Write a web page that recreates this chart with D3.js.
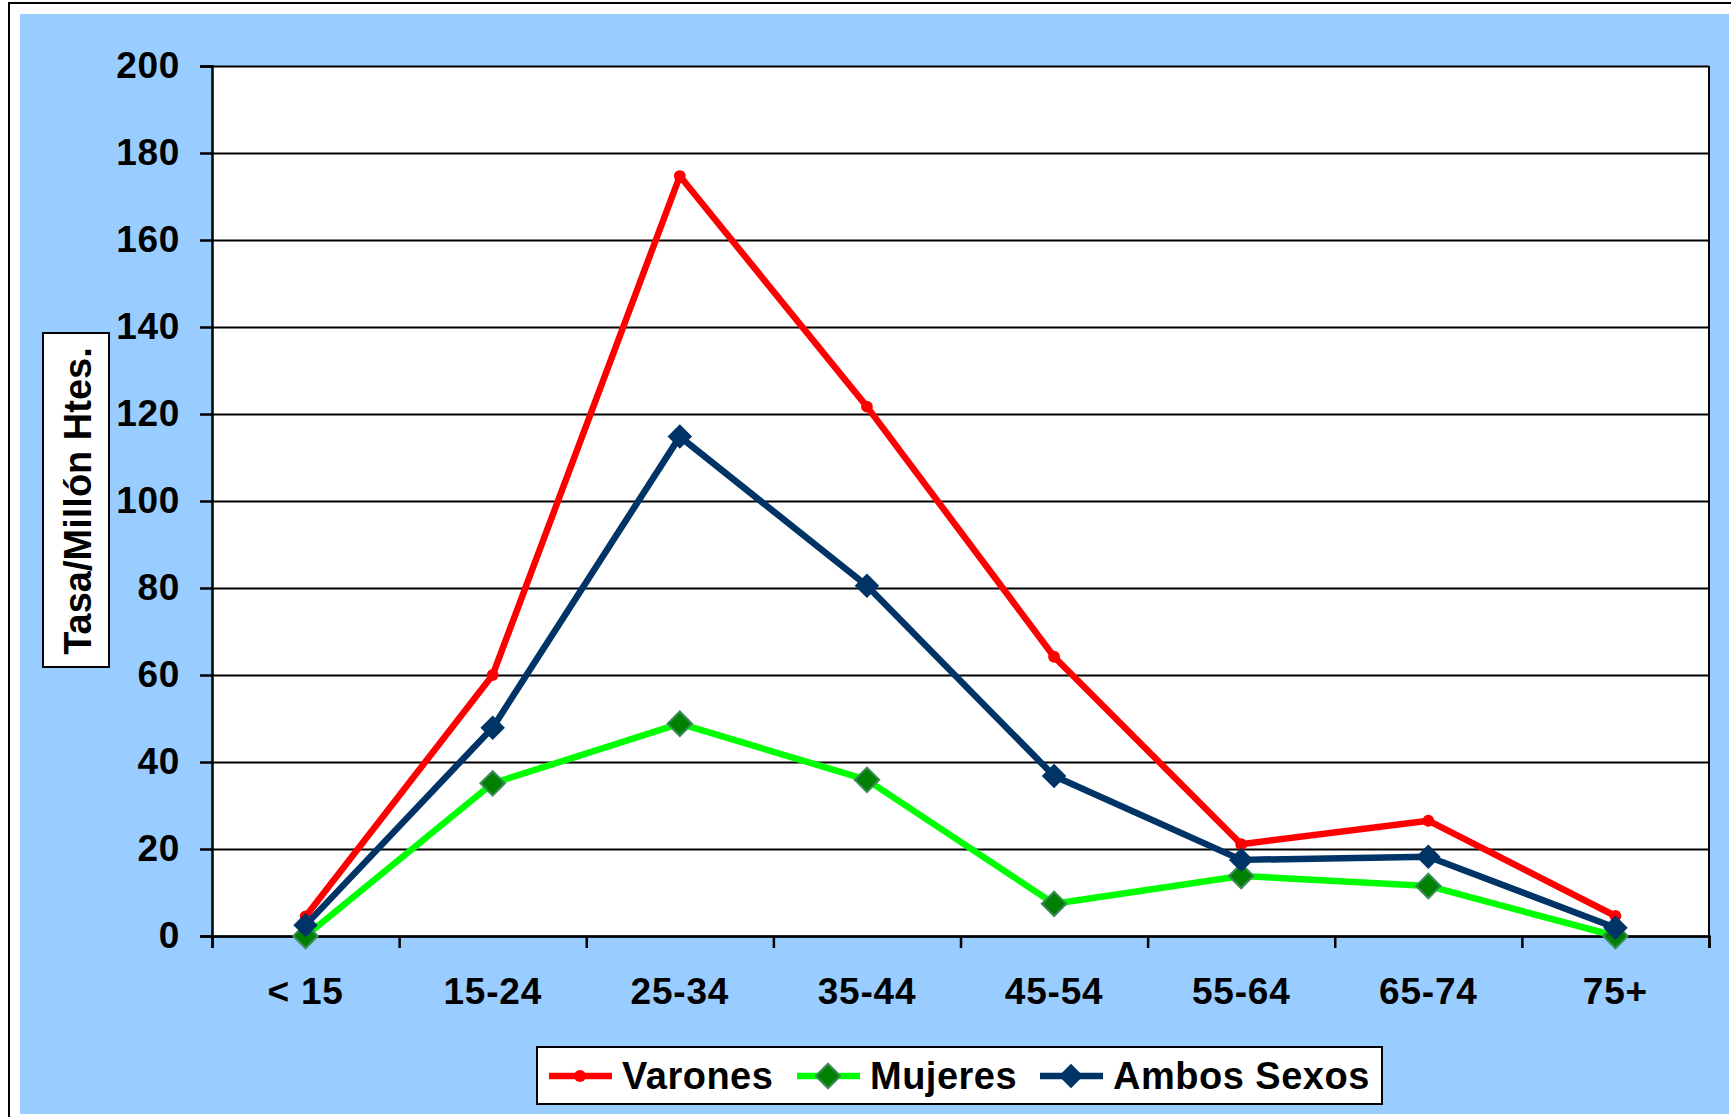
<!DOCTYPE html>
<html>
<head>
<meta charset="utf-8">
<script src="https://cdn.jsdelivr.net/npm/d3@7"></script>
<style>
  body { margin: 0; background: #fff; }
  text { font-family: "Liberation Sans", Arial, sans-serif; font-weight: bold; }
</style>
</head>
<body>
<script>
// values
var categories = ["< 15", "15-24", "25-34", "35-44", "45-54", "55-64", "65-74", "75+"];
var varones = [4.5, 60, 174.7, 121.7, 64.2, 21.1, 26.5, 4.6];
var mujeres = [0, 35.1, 48.8, 35.9, 7.4, 13.8, 11.5, 0];
var ambos = [2.5, 47.9, 114.8, 80.5, 36.8, 17.5, 18.2, 1.9];
var yTicks = [0, 20, 40, 60, 80, 100, 120, 140, 160, 180, 200];
var seriesNames = ["Varones", "Mujeres", "Ambos Sexos"];

var w = 1731;
var h = 1117;
var plotLeft = 212, plotRight = 1709, plotTop = 66, plotBottom = 936;

var svg = d3.select("body")
            .append("svg")
            .attr("width", w)
            .attr("height", h);

// outer frame + blue background
svg.append("rect").attr("x", 9).attr("y", 3).attr("width", w).attr("height", h)
   .attr("fill", "#fff").attr("stroke", "#000").attr("stroke-width", 2);
svg.append("rect").attr("x", 20).attr("y", 14).attr("width", 1709).attr("height", 1100)
   .attr("fill", "#99CCFF");

// plot area
svg.append("rect").attr("x", plotLeft).attr("y", plotTop)
   .attr("width", plotRight - plotLeft).attr("height", plotBottom - plotTop)
   .attr("fill", "#fff");

var xScale = d3.scaleBand()
               .domain(categories)
               .range([plotLeft, plotRight])
               .padding(0);

var xEdges = d3.scaleLinear()
               .domain([0, categories.length])
               .range([plotLeft, plotRight]);

var yScale = d3.scaleLinear()
               .domain([0, 200])
               .range([plotBottom, plotTop]);

// gridlines
svg.append("g")
   .attr("transform", "translate(" + plotLeft + ",0)")
   .call(d3.axisLeft(yScale).tickValues(yTicks).tickSize(-(plotRight - plotLeft)).tickFormat(""))
   .call(function(g) { g.select(".domain").remove(); })
   .selectAll("line")
   .attr("stroke", "#000")
   .attr("stroke-width", 2);

// right border of plot
svg.append("line").attr("x1", plotRight).attr("x2", plotRight).attr("y1", plotTop).attr("y2", plotBottom)
   .attr("stroke", "#000").attr("stroke-width", 2);

// y axis
var yAxis = svg.append("g")
   .attr("transform", "translate(" + plotLeft + ",0)")
   .call(d3.axisLeft(yScale).tickValues(yTicks).tickSize(12).tickPadding(20));
yAxis.select(".domain").attr("stroke", "#000").attr("stroke-width", 2.5);
yAxis.selectAll(".tick line").attr("stroke", "#000").attr("stroke-width", 2.5);
yAxis.selectAll(".tick text")
     .style("font-size", "37px")
     .style("font-family", "'Liberation Sans', Arial, sans-serif")
     .style("font-weight", "bold")
     .style("letter-spacing", "0.7px")
     .attr("fill", "#000");

// x axis: boundary ticks
var xTickAxis = svg.append("g")
   .attr("transform", "translate(0," + plotBottom + ")")
   .call(d3.axisBottom(xEdges).tickValues(d3.range(0, categories.length + 1)).tickSize(12).tickFormat(""));
xTickAxis.select(".domain").attr("stroke", "#000").attr("stroke-width", 2.5);
xTickAxis.selectAll(".tick line").attr("stroke", "#000").attr("stroke-width", 2.5);

// x axis: labels
var xLabels = svg.append("g")
   .attr("transform", "translate(0," + plotBottom + ")")
   .call(d3.axisBottom(xScale).tickSize(0).tickPadding(42));
xLabels.select(".domain").remove();
xLabels.selectAll(".tick text")
       .style("font-size", "37px")
       .style("font-family", "'Liberation Sans', Arial, sans-serif")
       .style("font-weight", "bold")
       .style("letter-spacing", "0.8px")
       .attr("fill", "#000");

// y title box
svg.append("rect").attr("x", 43).attr("y", 333).attr("width", 66).attr("height", 334)
   .attr("fill", "#fff").attr("stroke", "#000").attr("stroke-width", 2);
svg.append("text")
   .attr("transform", "translate(91,501) rotate(-90)")
   .attr("text-anchor", "middle")
   .style("font-size", "38px")
   .text("Tasa/Millón Htes.");

var line = d3.line()
             .x(function(d, i) { return xScale(categories[i]) + xScale.bandwidth() / 2; })
             .y(function(d) { return yScale(d); });

var diamond = d3.symbol().type(d3.symbolSquare).size(300);

function drawSeries(values, color, marker) {
  svg.append("path")
     .datum(values)
     .attr("d", line)
     .attr("fill", "none")
     .attr("stroke", color)
     .attr("stroke-width", 6.5)
     .attr("stroke-linejoin", "round");

  var pts = svg.append("g").selectAll("path.m")
     .data(values)
     .enter()
     .append("path")
     .attr("class", "m")
     .attr("transform", function(d, i) {
        return "translate(" + (xScale(categories[i]) + xScale.bandwidth() / 2) + "," + yScale(d) + ") rotate(45)";
     });
  if (marker == "circle") {
    pts.attr("d", d3.symbol().type(d3.symbolCircle).size(110)).attr("fill", color);
  } else if (marker == "green") {
    pts.attr("d", diamond).attr("fill", "#008000").attr("stroke", "#3C8C5A").attr("stroke-width", 2);
  } else {
    pts.attr("d", diamond).attr("fill", color);
  }
}

drawSeries(varones, "#FF0000", "circle");
drawSeries(mujeres, "#00FF00", "green");
drawSeries(ambos, "#003366", "navy");

// legend
svg.append("rect").attr("x", 537).attr("y", 1047).attr("width", 845).attr("height", 57)
   .attr("fill", "#fff").attr("stroke", "#000").attr("stroke-width", 2);

var legendX = [549, 797, 1040];
var legendColors = ["#FF0000", "#00FF00", "#003366"];
seriesNames.forEach(function(name, i) {
  var x0 = legendX[i];
  svg.append("line").attr("x1", x0).attr("x2", x0 + 63).attr("y1", 1076).attr("y2", 1076)
     .attr("stroke", legendColors[i]).attr("stroke-width", 6.5);
  if (i == 0) {
    svg.append("circle").attr("cx", x0 + 31).attr("cy", 1076).attr("r", 6).attr("fill", "#FF0000");
  } else {
    svg.append("path").attr("d", diamond)
       .attr("transform", "translate(" + (x0 + 31) + ",1076) rotate(45)")
       .attr("fill", i == 1 ? "#008000" : "#003366")
       .attr("stroke", i == 1 ? "#3C8C5A" : "none")
       .attr("stroke-width", 2);
  }
  svg.append("text").attr("x", x0 + 73).attr("y", 1089)
     .style("font-size", "38px")
     .style("letter-spacing", "0.5px")
     .text(name);
});
</script>
</body>
</html>
